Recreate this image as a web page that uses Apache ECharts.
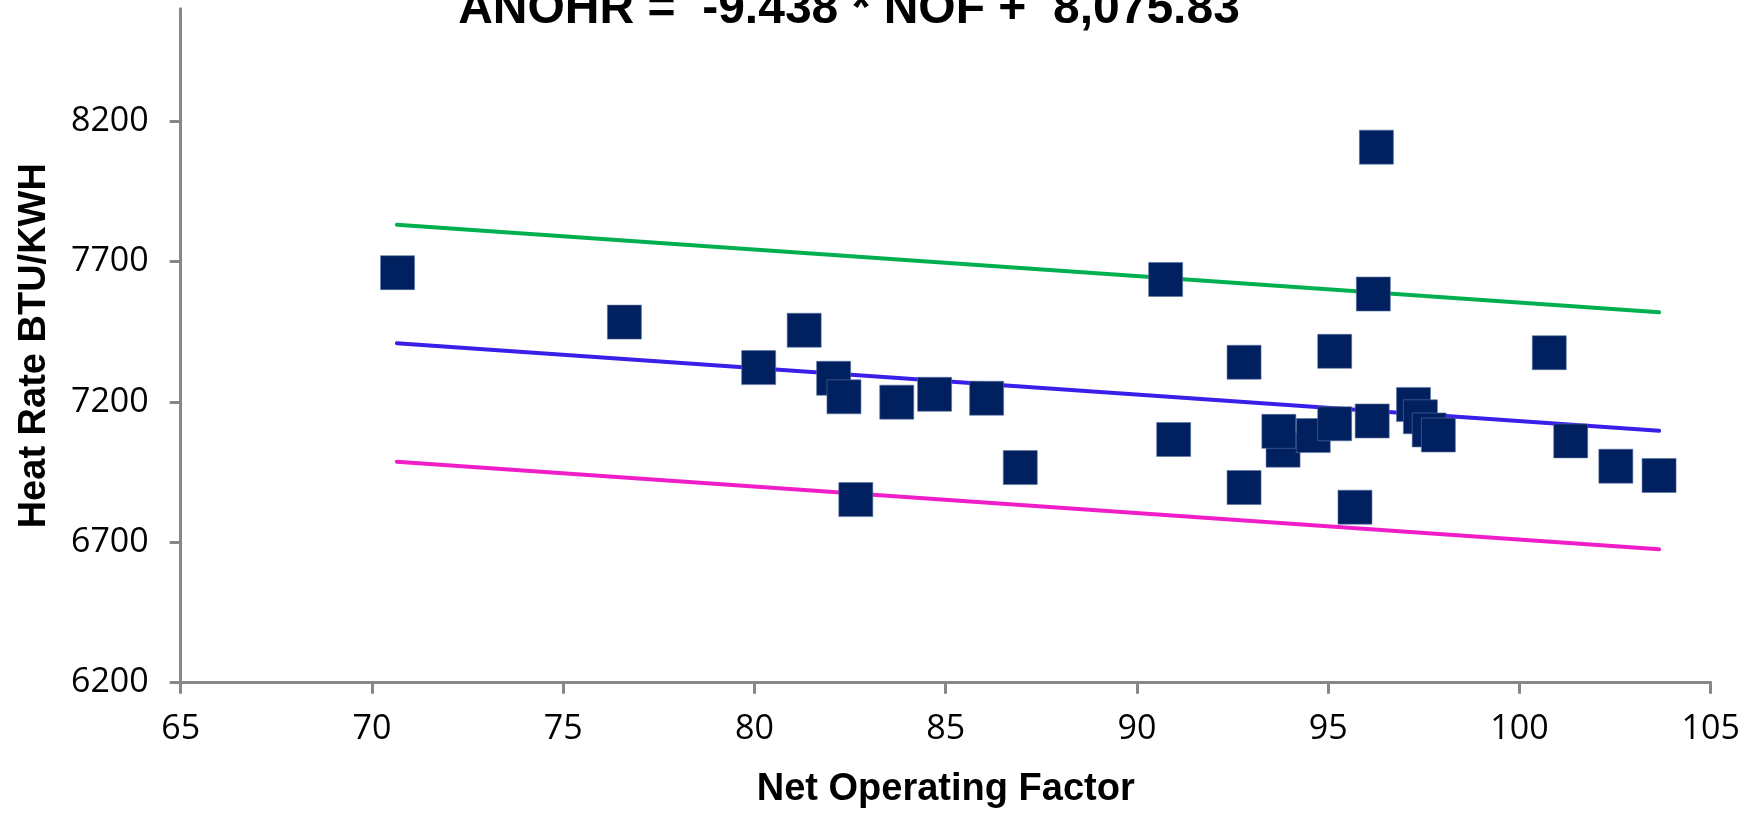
<!DOCTYPE html>
<html>
<head>
<meta charset="utf-8">
<title>ANOHR vs NOF</title>
<script src="https://cdn.jsdelivr.net/npm/echarts@6/dist/echarts.min.js"></script>
<style>
    html, body { margin: 0; padding: 0; background: #fff; }
    #chart { width: 1759px; height: 816px; }
</style>
</head>
<body>
<div id="chart"></div>
<script>
// Net Operating Factor (x) and Heat Rate BTU/KWH (y)
var nof = [70.67, 76.60, 80.11, 81.30, 82.07, 82.34, 82.65, 83.72, 84.71, 86.07, 86.95,
    90.75, 90.96, 92.80, 92.80, 93.82, 93.71, 94.61, 95.17, 95.17, 95.70, 96.26, 96.18,
    96.15, 97.23, 97.41, 97.64, 97.88, 100.78, 101.34, 102.52, 103.65];
var heatRate = [7660, 7484, 7322, 7455, 7284, 7218, 6852, 7199, 7227, 7213, 6966,
    7636, 7066, 7341, 6895, 7028, 7095, 7080, 7380, 7122, 6825, 8107, 7584,
    7132, 7191, 7147, 7100, 7082, 7375, 7061, 6971, 6938];

// regression line and band ends
var lineX = [70.65, 103.65];
var fitY = [7409, 7097];
var upperY = [7831, 7519];
var lowerY = [6987, 6675];

var yTicks = [6200, 6700, 7200, 7700, 8200];

function pairs(xs, ys) {
    var out = [];
    for (var i = 0; i < xs.length; i++) {
        out.push([xs[i], ys[i]]);
    }
    return out;
}

function bandLine(name, ys, color) {
    return {
        name: name,
        type: 'line',
        data: pairs(lineX, ys),
        symbol: 'none',
        z: 2,
        silent: true,
        lineStyle: {color: color, width: 4, cap: 'round'}
    };
}

var myChart = echarts.init(document.getElementById('chart'));

var axisColor = '#878787';
var labelFont = {fontFamily: 'Open Sans', fontSize: 34, color: '#000'};
var nameFont = {fontFamily: 'Liberation Sans', fontSize: 38, fontWeight: 'bold', color: '#000'};

var option = {
    animation: false,
    backgroundColor: '#fff',
    grid: {left: 180.7, right: 48.3, top: 8.7, bottom: 133.3},
    graphic: [{
        type: 'text',
        style: {
            x: 849,
            y: 10,
            text: 'ANOHR =  -9.438 * NOF +  8,075.83',
            fontFamily: 'Liberation Sans',
            fontSize: 48,
            fontWeight: 'bold',
            fill: '#000',
            align: 'center',
            verticalAlign: 'middle'
        }
    }],
    xAxis: {
        type: 'value',
        min: 65,
        max: 105,
        interval: 5,
        name: 'Net Operating Factor',
        nameLocation: 'middle',
        nameGap: 88,
        nameTextStyle: nameFont,
        splitLine: {show: false},
        axisLine: {lineStyle: {color: axisColor, width: 3}},
        axisTick: {length: 11, lineStyle: {color: axisColor, width: 3}},
        axisLabel: Object.assign({margin: 30}, labelFont)
    },
    yAxis: {
        type: 'value',
        min: 6200,
        max: 8600,
        name: 'Heat Rate BTU/KWH',
        nameLocation: 'middle',
        nameGap: 127,
        nameTextStyle: nameFont,
        splitLine: {show: false},
        axisLine: {show: true, lineStyle: {color: axisColor, width: 3}},
        axisTick: {show: true, length: 11, customValues: yTicks, lineStyle: {color: axisColor, width: 3}},
        axisLabel: Object.assign({
            margin: 32,
            customValues: yTicks,
            formatter: function (v) { return String(v); }
        }, labelFont)
    },
    series: [
        bandLine('Upper', upperY, '#00B050'),
        bandLine('Fit', fitY, '#3A1EEA'),
        bandLine('Lower', lowerY, '#F01EC8'),
        {
            name: 'ANOHR',
            type: 'scatter',
            symbol: 'rect',
            symbolSize: 34,
            z: 5,
            data: pairs(nof, heatRate),
            itemStyle: {color: '#002060', borderColor: '#5a74a0', borderWidth: 0.6, opacity: 1}
        }
    ]
};

myChart.setOption(option);
</script>
</body>
</html>
